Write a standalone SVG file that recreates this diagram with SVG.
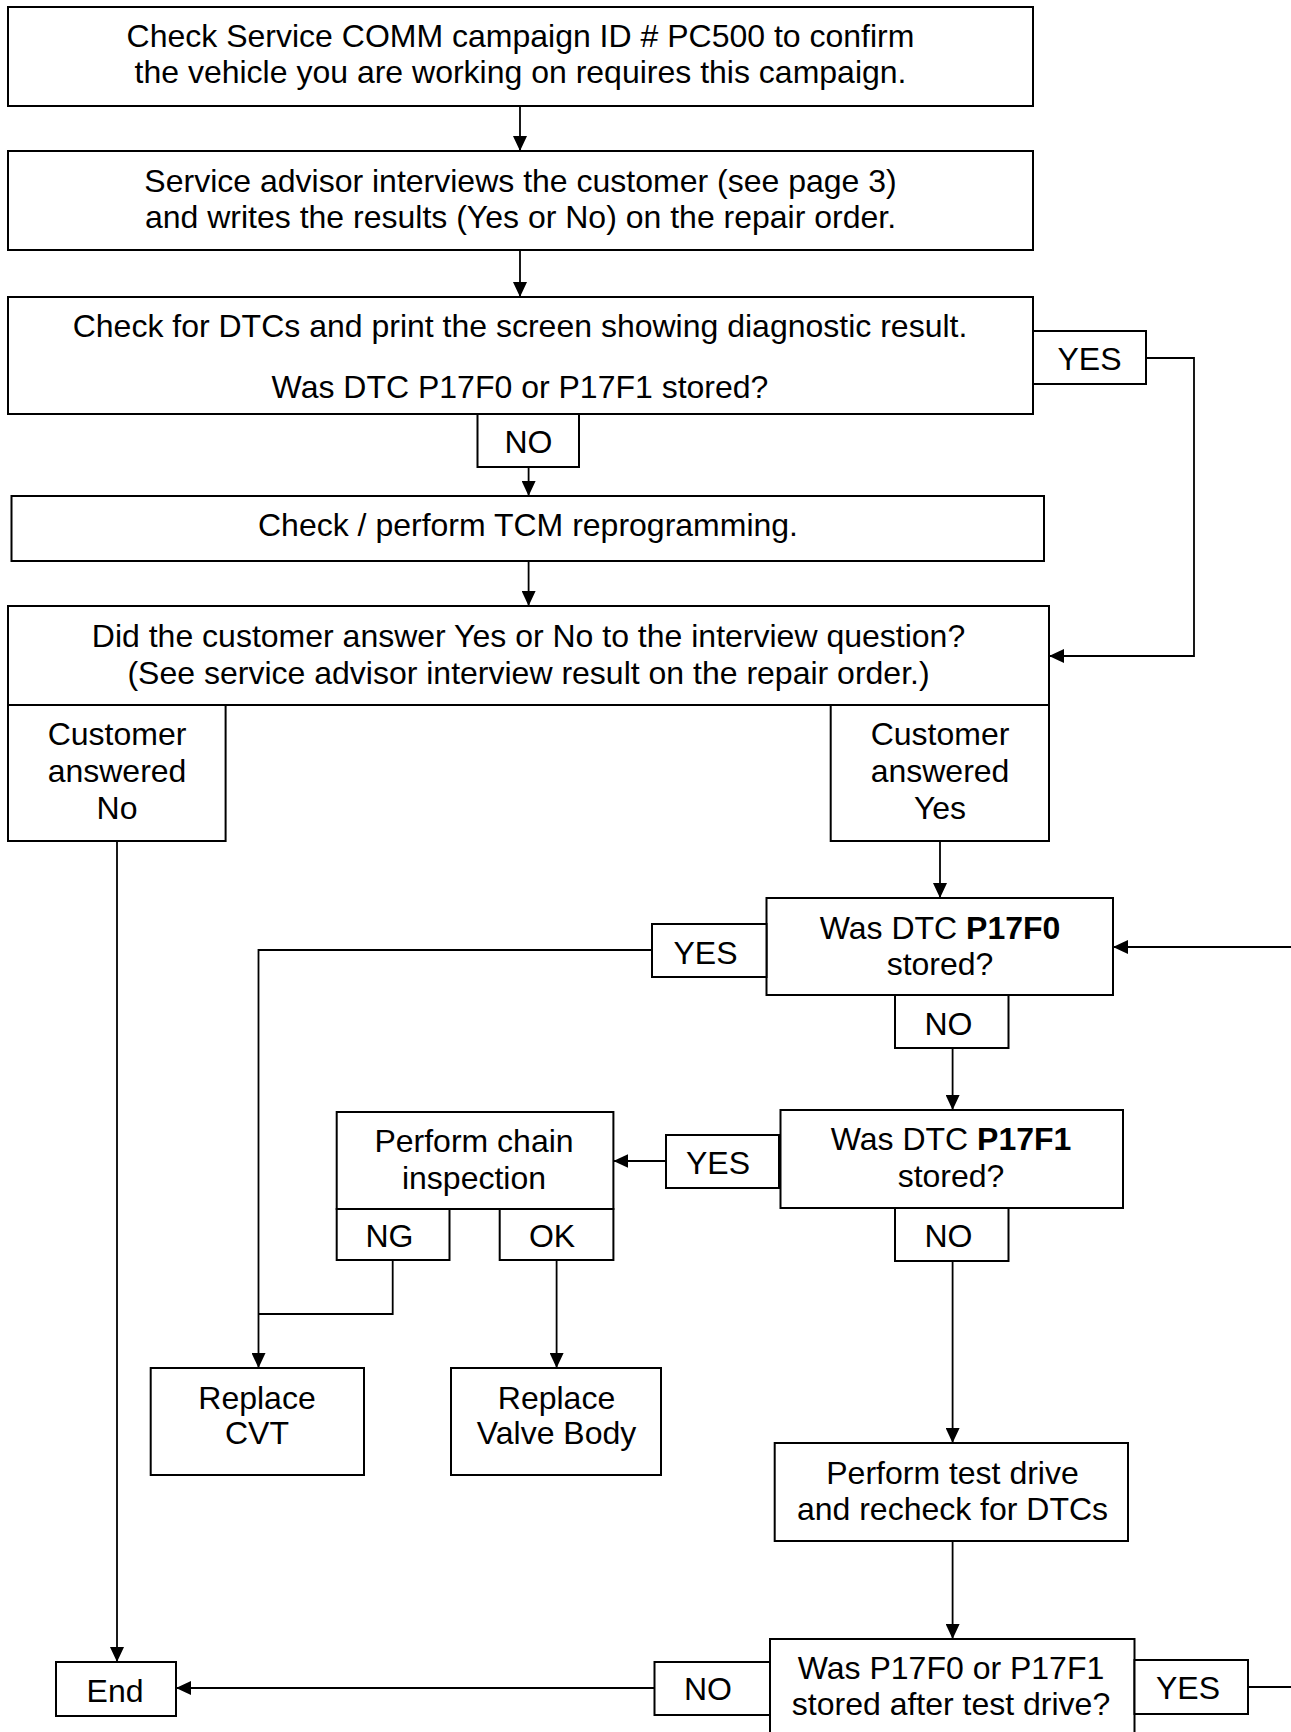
<svg xmlns="http://www.w3.org/2000/svg" width="1291" height="1732" viewBox="0 0 1291 1732">
<defs>
<style>
.box{fill:#fff;stroke:#000;stroke-width:2}
.t{font-family:"Liberation Sans",Arial,sans-serif;font-size:32px;fill:#000;text-anchor:middle}
.c{fill:none;stroke:#000;stroke-width:1.8}
.ca{fill:none;stroke:#000;stroke-width:1.8;marker-end:url(#ah)}
</style>
<marker id="ah" viewBox="0 0 15 14" refX="15" refY="7" markerWidth="15" markerHeight="14" markerUnits="userSpaceOnUse" orient="auto">
<path d="M0,0 L15,7 L0,14 z" fill="#000"/>
</marker>
</defs>
<rect width="1291" height="1732" fill="#fff"/>

<g id="connectors">
<line class="ca" x1="520" y1="106" x2="520" y2="151"/>
<line class="ca" x1="520" y1="250" x2="520" y2="297"/>
<polyline class="ca" points="1146,358 1194,358 1194,656 1049,656"/>
<line class="ca" x1="528.6" y1="467" x2="528.6" y2="496"/>
<line class="ca" x1="528.6" y1="561" x2="528.6" y2="606"/>
<line class="ca" x1="117" y1="841" x2="117" y2="1662"/>
<line class="ca" x1="940" y1="841" x2="940" y2="898"/>
<line class="ca" x1="1291" y1="947" x2="1113" y2="947"/>
<polyline class="ca" points="652,950 258.5,950 258.5,1368"/>
<line class="ca" x1="952.6" y1="1048" x2="952.6" y2="1110"/>
<line class="ca" x1="666" y1="1161" x2="613.4" y2="1161"/>
<polyline class="c" points="392.7,1260 392.7,1314 258.5,1314"/>
<line class="ca" x1="556.6" y1="1260" x2="556.6" y2="1368"/>
<line class="ca" x1="952.6" y1="1261" x2="952.6" y2="1443"/>
<line class="ca" x1="952.6" y1="1541" x2="952.6" y2="1639"/>
<line class="ca" x1="654.5" y1="1688" x2="176" y2="1688"/>
<line class="c" x1="1248" y1="1687" x2="1291" y2="1687"/>
</g>

<g id="n1"><rect class="box" x="8" y="7" width="1025" height="99"/>
<text class="t" x="520.5" y="46.5">Check Service COMM campaign ID # PC500 to confirm</text>
<text class="t" x="520.5" y="83">the vehicle you are working on requires this campaign.</text></g>

<g id="n2"><rect class="box" x="8" y="151" width="1025" height="99"/>
<text class="t" x="520.5" y="191.5">Service advisor interviews the customer (see page 3)</text>
<text class="t" x="520.5" y="228">and writes the results (Yes or No) on the repair order.</text></g>

<g id="n3"><rect class="box" x="8" y="297" width="1025" height="117"/>
<text class="t" x="520" y="337">Check for DTCs and print the screen showing diagnostic result.</text>
<text class="t" x="520" y="398">Was DTC P17F0 or P17F1 stored?</text></g>

<g id="n3yes"><rect class="box" x="1033" y="331" width="113" height="53"/>
<text class="t" x="1089.5" y="370">YES</text></g>

<g id="n3no"><rect class="box" x="477.5" y="414" width="101.5" height="53"/>
<text class="t" x="528.5" y="453">NO</text></g>

<g id="n4"><rect class="box" x="11.5" y="496" width="1032.5" height="65"/>
<text class="t" x="528" y="536">Check / perform TCM reprogramming.</text></g>

<g id="n5"><rect class="box" x="8" y="606" width="1041" height="99"/>
<text class="t" x="528.5" y="647">Did the customer answer Yes or No to the interview question?</text>
<text class="t" x="528.5" y="683.5">(See service advisor interview result on the repair order.)</text></g>

<g id="n5no"><rect class="box" x="8" y="705" width="217.6" height="136"/>
<text class="t" x="117" y="745">Customer</text>
<text class="t" x="117" y="782">answered</text>
<text class="t" x="117" y="818.5">No</text></g>

<g id="n5yes"><rect class="box" x="830.7" y="705" width="218.3" height="136"/>
<text class="t" x="940" y="745">Customer</text>
<text class="t" x="940" y="782">answered</text>
<text class="t" x="940" y="818.5">Yes</text></g>

<g id="n6"><rect class="box" x="766.5" y="898" width="346.5" height="97"/>
<text class="t" x="940" y="938.5">Was DTC <tspan font-weight="bold">P17F0</tspan></text>
<text class="t" x="940" y="975">stored?</text></g>

<g id="n6yes"><rect class="box" x="652" y="924" width="114.5" height="53"/>
<text class="t" x="705.5" y="964">YES</text></g>

<g id="n6no"><rect class="box" x="895" y="995" width="113.5" height="53"/>
<text class="t" x="948.5" y="1035">NO</text></g>

<g id="n7"><rect class="box" x="780.5" y="1110" width="342.5" height="98"/>
<text class="t" x="951" y="1150">Was DTC <tspan font-weight="bold">P17F1</tspan></text>
<text class="t" x="951" y="1187">stored?</text></g>

<g id="n7yes"><rect class="box" x="666" y="1135" width="113" height="53"/>
<text class="t" x="718" y="1174">YES</text></g>

<g id="n7no"><rect class="box" x="895" y="1208" width="113.5" height="53"/>
<text class="t" x="948.5" y="1247">NO</text></g>

<g id="n8"><rect class="box" x="336.7" y="1112" width="276.7" height="97"/>
<text class="t" x="474" y="1152">Perform chain</text>
<text class="t" x="474" y="1188.5">inspection</text></g>

<g id="n8ng"><rect class="box" x="336.7" y="1209" width="112.8" height="51"/>
<text class="t" x="389.5" y="1247">NG</text></g>

<g id="n8ok"><rect class="box" x="499.7" y="1209" width="113.7" height="51"/>
<text class="t" x="552" y="1247">OK</text></g>

<g id="n9"><rect class="box" x="150.7" y="1368" width="213.3" height="107"/>
<text class="t" x="257" y="1408.5">Replace</text>
<text class="t" x="257" y="1443.5">CVT</text></g>

<g id="n10"><rect class="box" x="451" y="1368" width="210" height="107"/>
<text class="t" x="556.5" y="1408.5">Replace</text>
<text class="t" x="556.5" y="1443.5">Valve Body</text></g>

<g id="n11"><rect class="box" x="774.7" y="1443" width="353.3" height="98"/>
<text class="t" x="952.5" y="1483.5">Perform test drive</text>
<text class="t" x="952.5" y="1520">and recheck for DTCs</text></g>

<g id="n12"><rect class="box" x="770" y="1639" width="364.5" height="110"/>
<text class="t" x="951" y="1678.5">Was P17F0 or P17F1</text>
<text class="t" x="951" y="1715">stored after test drive?</text></g>

<g id="n12no"><rect class="box" x="654.5" y="1662" width="115.5" height="53"/>
<text class="t" x="708" y="1700">NO</text></g>

<g id="n12yes"><rect class="box" x="1134.5" y="1660" width="113.5" height="54"/>
<text class="t" x="1188" y="1699">YES</text></g>

<g id="end"><rect class="box" x="56" y="1662" width="120" height="54"/>
<text class="t" x="115" y="1701.5">End</text></g>
</svg>
